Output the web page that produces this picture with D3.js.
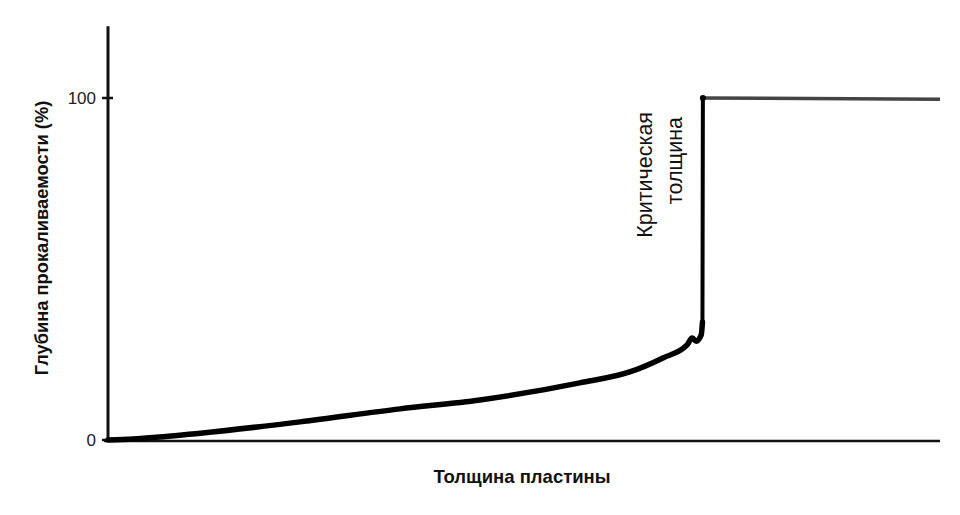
<!DOCTYPE html>
<html>
<head>
<meta charset="utf-8">
<script src="https://cdn.jsdelivr.net/npm/d3@7/dist/d3.min.js"></script>
<style>
  html, body { margin: 0; padding: 0; background: #fff; }
  svg { display: block; }
  text { font-family: "Liberation Sans", Arial, sans-serif; }
</style>
</head>
<body>
<svg id="chart" width="960" height="515"></svg>
<script>
// ---- data ----
const thickness = [0, 3.0, 11.1, 23.1, 35.1, 44.7, 56.7, 62.7, 66.7, 69.6, 70.2, 70.7, 71.3, 71.45];
const depth     = [0, 0.3, 2.0, 5.3, 9.1, 11.7, 16.7, 19.9, 24.0, 27.8, 29.8, 28.9, 30.7, 34.5];
const criticalThickness = 71.5;
const plateauX = [71.5, 100];
const plateauY = [100, 99.6];
const yTicks = [0, 100];
const yTickLabels = ["0", "100"];
const xTitle = "Толщина пластины";
const yTitle = "Глубина прокаливаемости (%)";
const annotation = ["Критическая", "толщина"];

const svg = d3.select("#chart");
const x = d3.scaleLinear().domain([0, 100]).range([108, 940]);
const y = d3.scaleLinear().domain([0, 100]).range([440, 98]);

// axes
svg.append("line").attr("x1", x(0)).attr("x2", x(0))
  .attr("y1", y(121)).attr("y2", y(0) + 1.5)
  .attr("stroke", "#111").attr("stroke-width", 3);
svg.append("line").attr("x1", x(0) - 4).attr("x2", x(100))
  .attr("y1", y(0) + 1).attr("y2", y(0) + 1)
  .attr("stroke", "#111").attr("stroke-width", 2.5);

// ticks
const tg = svg.append("g");
yTicks.forEach((t, i) => {
  tg.append("line").attr("x1", x(0) - 6).attr("x2", t === 0 ? x(0) : x(0) + 5)
    .attr("y1", y(t)).attr("y2", y(t))
    .attr("stroke", "#111").attr("stroke-width", 2.5);
  tg.append("text").attr("x", x(0) - 12).attr("y", y(t))
    .attr("dy", "0.35em").attr("text-anchor", "end")
    .attr("font-size", 17).attr("fill", "#222")
    .text(yTickLabels[i]);
});

// curve
const pts = thickness.map((t, i) => [t, depth[i]]);
svg.append("path")
  .attr("d", d3.line().x(d => x(d[0])).y(d => y(d[1])).curve(d3.curveMonotoneX)(pts))
  .attr("fill", "none").attr("stroke", "#000").attr("stroke-width", 5.5)
  .attr("stroke-linecap", "round").attr("stroke-linejoin", "round");

// vertical jump at critical thickness
svg.append("path")
  .attr("d", d3.line().x(d => x(d[0])).y(d => y(d[1]))([[thickness[thickness.length-1], depth[depth.length-1]], [criticalThickness, 100]]))
  .attr("fill", "none").attr("stroke", "#000").attr("stroke-width", 4)
  .attr("stroke-linecap", "round");

// plateau
svg.append("path")
  .attr("d", d3.line().x(d => x(d[0])).y(d => y(d[1]))(plateauX.map((v, i) => [v, plateauY[i]])))
  .attr("fill", "none").attr("stroke", "#444").attr("stroke-width", 3.5);
svg.append("circle").attr("cx", x(criticalThickness)).attr("cy", y(100)).attr("r", 3).attr("fill", "#000");

// titles
svg.append("text").attr("x", 522).attr("y", 483)
  .attr("text-anchor", "middle").attr("font-size", 18.5).attr("font-weight", "bold")
  .attr("fill", "#111").text(xTitle);
svg.append("text").attr("transform", "translate(48,238) rotate(-90)")
  .attr("text-anchor", "middle").attr("font-size", 18.3).attr("font-weight", "bold")
  .attr("fill", "#111").text(yTitle);

// annotation
svg.append("text").attr("transform", `translate(${x(criticalThickness) - 51},112) rotate(-90)`)
  .attr("text-anchor", "end").attr("font-size", 21.5).attr("fill", "#111").text(annotation[0]);
svg.append("text").attr("transform", `translate(${x(criticalThickness) - 21},117) rotate(-90)`)
  .attr("text-anchor", "end").attr("font-size", 21.5).attr("fill", "#111").text(annotation[1]);
</script>
</body>
</html>
